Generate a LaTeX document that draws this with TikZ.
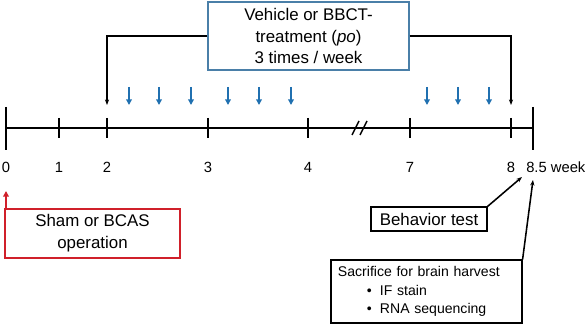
\documentclass[tikz,border=0pt]{standalone}
\usepackage{fontspec}
\setmainfont{Liberation Sans}
\usepackage{tikz}
\usetikzlibrary{arrows.meta, positioning, calc}
\definecolor{boxblue}{HTML}{4A7FA8}
\definecolor{dose}{HTML}{2070B0}
\definecolor{opred}{HTML}{D0202A}
\newcommand{\itemline}[1]{\hspace*{0.72cm}\makebox[0.33cm][l]{\textbullet}#1}

\begin{document}
\begin{tikzpicture}[
  x=0.025cm, y=-0.025cm,
  axis/.style={line width=1.4pt},
  tickmark/.style={line width=1.1pt},
  weeklabel/.style={font=\fontsize{10.5}{12}\selectfont, inner sep=0pt},
  dosearrow/.style={draw=dose, line width=1.1pt, -{Triangle[length=4pt, width=4pt]}},
  link/.style={line width=0.75pt, -{Stealth[length=4pt, width=3pt]}},
  textbox/.style={rectangle, draw, line width=0.8pt, align=center,
    font=\fontsize{12}{15.6}\selectfont, inner sep=0pt},
]
  \useasboundingbox (0,0) rectangle (585,327);

  % Timeline
  \coordinate (t0) at (6,128);
  \coordinate (tend) at (533,128);
  \draw[axis] (t0) -- (tend);
  \draw[axis] (6,107) -- (6,150);
  \draw[axis] (533,107) -- (533,150);
  \foreach \x in {59,107,208,308,410,511}
    \draw[tickmark] (\x,118) -- (\x,138);
  % Break
  \draw[tickmark] (352,135) -- (359,121);
  \draw[tickmark] (360,135) -- (367,121);

  % Week labels
  \foreach \x/\w in {6/0, 59/1, 107/2, 208/3, 308/4, 410/7, 511/8}
    \node[weeklabel] (w\w) at (\x,167) {\w};
  \node[weeklabel, anchor=west] (wend) at (526,167) {8.5 week};

  % Dosing
  \foreach \x in {129,159,191,228,259,291,427,458,489}
    \draw[dosearrow] (\x,87) -- (\x,105);

  % Treatment
  \node[textbox, draw=boxblue, minimum width=5.025cm, minimum height=1.7cm] (treat)
    at (308.5,36) {Vehicle or BBCT-\\treatment (\textit{po})\\3 times / week};
  \coordinate (d2) at (107,105);
  \coordinate (d8) at (511,105);
  \draw[link] (treat.west) -| (d2);
  \draw[link] (treat.east) -| (d8);

  % Operation
  \node[textbox, draw=opred, minimum width=4.375cm, minimum height=1.225cm] (sham)
    at (92.5,233.5) {Sham or BCAS\\operation};
  \coordinate (op) at (6,191);
  \draw[draw=opred, line width=1.1pt, -{Triangle[length=4pt, width=4pt]}]
    (sham.north -| op) -- (op);

  % Behavior
  \node[textbox, minimum width=2.9cm, minimum height=0.6cm] (behav)
    at (429,219) {Behavior test};
  \coordinate (b8) at (522,177);
  \draw[link, line width=1.1pt] (behav.north east) -- (b8);

  % Sacrifice
  \node[textbox, align=left, font=\fontsize{10}{13}\selectfont,
    minimum width=4.775cm, minimum height=1.575cm, text width=4.425cm] (sac)
    at (426.5,291.5) {Sacrifice for brain harvest\\\itemline{IF stain}\\\itemline{RNA sequencing}};
  \coordinate (s85) at (533,180);
  \draw[link, line width=1.1pt] (sac.north east) -- (s85);
\end{tikzpicture}
\end{document}
